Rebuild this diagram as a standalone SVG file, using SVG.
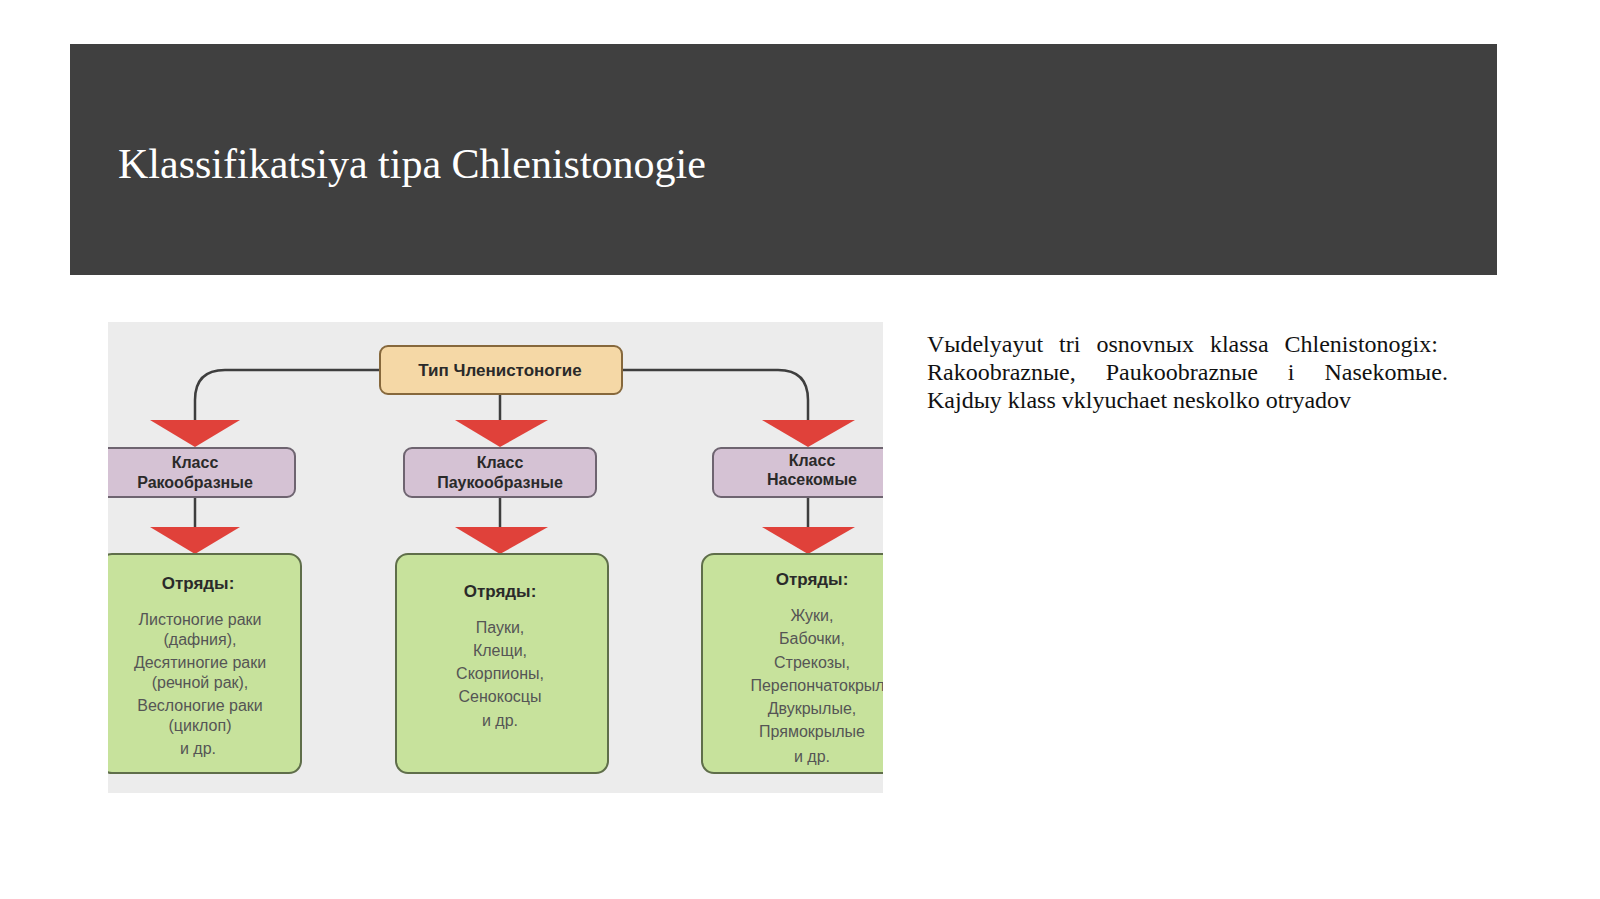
<svg xmlns="http://www.w3.org/2000/svg" width="1600" height="899" viewBox="0 0 1600 899">
<defs>
<style>
.t{font-family:"Liberation Sans",Arial,sans-serif;fill:#2a2a2a;text-anchor:middle}
.b{font-weight:bold}
.cls{fill:#d5c2d4;stroke:#6e6470;stroke-width:2}
.grn{fill:#c7e29c;stroke:#5f6e4a;stroke-width:2}
.tri{fill:#e0413a}
.ln{fill:none;stroke:#3e3e3e;stroke-width:2.5}
.it{font-size:16px;fill:#555}
</style>
<clipPath id="pic"><rect x="108" y="322" width="775" height="471"/></clipPath>
</defs>
<rect width="1600" height="899" fill="#fff"/>
<rect x="70" y="44" width="1427" height="231" fill="#404040"/>
<text x="118" y="178" font-family="Liberation Serif,serif" font-size="42" fill="#fff">Klassifikatsiya tipa Chlenistonogie</text>
<g font-family="Liberation Serif,serif" font-size="24" fill="#111">
<text x="927" y="352" word-spacing="10">Vыdelyayut tri osnovnых klassa Chlenistonogix:</text>
<text x="927" y="380" word-spacing="24">Rakoobraznыe, Paukoobraznыe i Nasekomыe.</text>
<text x="927" y="408">Kajdыy klass vklyuchaet neskolko otryadov</text>
</g>
<g clip-path="url(#pic)">
<rect x="108" y="322" width="775" height="471" fill="#ececec"/>
<g id="connectors">
<path class="ln" d="M380 370 H225 Q195 370 195 400 V422"/>
<path class="ln" d="M622 370 H778 Q808 370 808 400 V422"/>
<path class="ln" d="M500 394 V422"/>
<path class="ln" d="M195 497 V530 M500 497 V530 M808 497 V530"/>
<polygon class="tri" points="150,420 240,420 195,447"/>
<polygon class="tri" points="455,420 548,420 500,447"/>
<polygon class="tri" points="762,420 855,420 808,447"/>
<polygon class="tri" points="150,527 240,527 195,554"/>
<polygon class="tri" points="455,527 548,527 500,554"/>
<polygon class="tri" points="762,527 855,527 808,554"/>
</g>
<g id="root"><rect x="380" y="346" width="242" height="48" rx="8" fill="#f5d8a6" stroke="#86683c" stroke-width="2"/>
<text class="t b" x="500" y="376" font-size="17">Тип Членистоногие</text></g>
<g id="c1"><rect class="cls" x="100" y="448" width="195" height="49" rx="8"/>
<text class="t b" x="195" y="468" font-size="16">Класс</text><text class="t b" x="195" y="488" font-size="16">Ракообразные</text></g>
<g id="c2"><rect class="cls" x="404" y="448" width="192" height="49" rx="8"/>
<text class="t b" x="500" y="468" font-size="16">Класс</text><text class="t b" x="500" y="488" font-size="16">Паукообразные</text></g>
<g id="c3"><rect class="cls" x="713" y="448" width="190" height="49" rx="8"/>
<text class="t b" x="812" y="466" font-size="16">Класс</text><text class="t b" x="812" y="485" font-size="16">Насекомые</text></g>
<g id="o1"><rect class="grn" x="100" y="554" width="201" height="219" rx="12"/>
<text class="t b" x="198" y="589" font-size="17">Отряды:</text>
<text class="t it" x="200" y="625">Листоногие раки</text><text class="t it" x="200" y="645">(дафния),</text>
<text class="t it" x="200" y="668">Десятиногие раки</text><text class="t it" x="200" y="688">(речной рак),</text>
<text class="t it" x="200" y="711">Веслоногие раки</text><text class="t it" x="200" y="731">(циклоп)</text>
<text class="t it" x="198" y="754">и др.</text></g>
<g id="o2"><rect class="grn" x="396" y="554" width="212" height="219" rx="12"/>
<text class="t b" x="500" y="597" font-size="17">Отряды:</text>
<text class="t it" x="500" y="633">Пауки,</text><text class="t it" x="500" y="656">Клещи,</text>
<text class="t it" x="500" y="679">Скорпионы,</text><text class="t it" x="500" y="702">Сенокосцы</text>
<text class="t it" x="500" y="726">и др.</text></g>
<g id="o3"><rect class="grn" x="702" y="554" width="200" height="219" rx="12"/>
<text class="t b" x="812" y="585" font-size="17">Отряды:</text>
<text class="t it" x="812" y="621">Жуки,</text><text class="t it" x="812" y="644">Бабочки,</text>
<text class="t it" x="812" y="668">Стрекозы,</text><text class="t it" x="830" y="691">Перепончатокрылые,</text>
<text class="t it" x="812" y="714">Двукрылые,</text><text class="t it" x="812" y="737">Прямокрылые</text>
<text class="t it" x="812" y="762">и др.</text></g>
</g>
</svg>
